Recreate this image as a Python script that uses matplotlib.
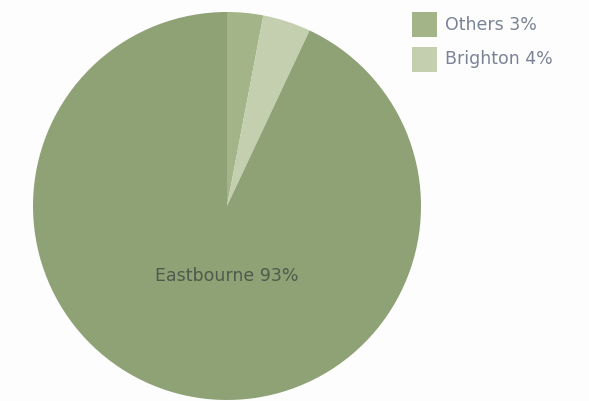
import matplotlib
matplotlib.use("Agg")
import matplotlib.pyplot as plt
from matplotlib.patches import Rectangle

# slice data (clockwise from 12 o'clock)
names = ["Others", "Brighton", "Eastbourne"]
shares = [3, 4, 93]
colours = ["#a3b489", "#c3cfae", "#8fa276"]

W, H = 589, 401
fig = plt.figure(figsize=(W / 100, H / 100), dpi=100)
fig.patch.set_facecolor("#fdfdfd")

# pie centre ~ (227, 206) px, radius ~194 px
cx, cy, r = 227, 206, 194
ax = fig.add_axes([(cx - r) / W, (H - cy - r) / H, 2 * r / W, 2 * r / H])
wedges, _ = ax.pie(shares, colors=colours, startangle=90, counterclock=False,
                   radius=1, wedgeprops=dict(linewidth=0))
ax.set_xlim(-1, 1)
ax.set_ylim(-1, 1)
ax.set_aspect("equal")
ax.axis("off")

ax.text(0, -0.36, f"{names[2]} {shares[2]}%", ha="center", va="center",
        fontsize=12.5, color="#4e5a4c")

# legend drawn by hand: 25px swatches, 35px pitch
for i in range(2):
    top = 12 + 35 * i
    fig.patches.append(Rectangle((412 / W, 1 - (top + 25) / H), 25 / W, 25 / H,
                                 transform=fig.transFigure, facecolor=colours[i],
                                 edgecolor="none"))
    fig.text(445 / W, 1 - (top + 12.5) / H, f"{names[i]} {shares[i]}%",
             ha="left", va="center", fontsize=12.5, color="#7a8296")

fig.savefig("out.png", dpi=100, facecolor=fig.get_facecolor())
